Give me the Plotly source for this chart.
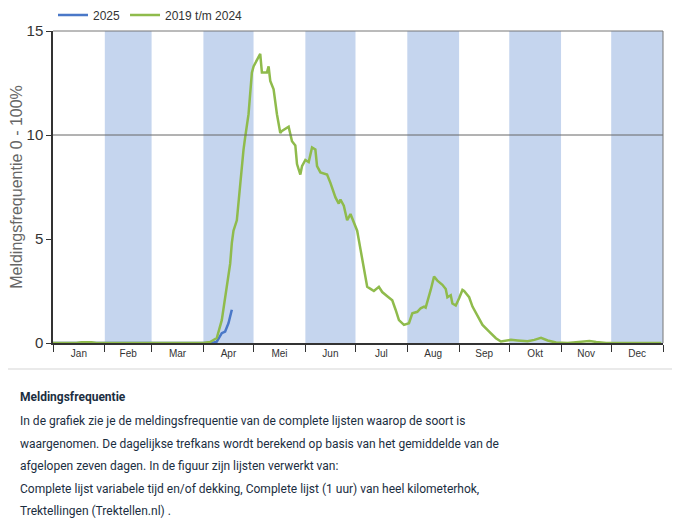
import plotly.graph_objects as go

# day of year (0 = 1 jan) and frequency (%)
hist_days = [0, 14, 17, 20, 23, 26, 60, 90, 94, 98, 101, 103, 106, 107, 108, 110, 112, 114, 115, 117,
             119, 120, 124, 125, 128, 129, 130, 132, 134, 136, 137, 139, 141, 143, 145, 146,
             148, 149, 151, 153, 155, 157, 158, 160, 164, 166, 168, 169, 171, 172, 174, 176,
             178, 180, 182, 184, 186, 188, 190, 192, 195, 197, 200, 203, 205, 207, 210, 213,
             215, 218, 220, 222, 223, 225, 226, 228, 230, 233, 235, 236, 238, 239, 241, 243,
             245, 246, 249, 251, 254, 257, 261, 265, 268, 271, 274, 278, 281, 284, 288, 292,
             296, 301, 308, 315, 321, 325, 331, 345, 364]
hist_vals = [0.0, 0.0, 0.04, 0.05, 0.04, 0.0, 0.0, 0.0, 0.05, 0.24, 1.1, 2.2, 3.8, 4.8, 5.4, 5.9, 7.7,
             9.3, 9.9, 11.0, 13.0, 13.3, 13.9, 13.0, 13.0, 13.3, 12.6, 12.2, 11.0, 10.1, 10.2,
             10.3, 10.4, 9.7, 9.5, 8.6, 8.1, 8.5, 8.8, 8.7, 9.4, 9.3, 8.5, 8.2, 8.1, 7.7, 7.2,
             7.0, 6.7, 6.9, 6.6, 5.9, 6.2, 5.8, 5.4, 4.5, 3.5, 2.7, 2.6, 2.5, 2.7, 2.45, 2.25,
             2.05, 1.6, 1.1, 0.87, 0.95, 1.43, 1.5, 1.67, 1.75, 1.7, 2.2, 2.55, 3.2, 3.0, 2.8,
             2.6, 2.2, 2.3, 1.9, 1.8, 2.15, 2.55, 2.5, 2.2, 1.75, 1.3, 0.87, 0.55, 0.23, 0.07,
             0.1, 0.15, 0.12, 0.1, 0.08, 0.15, 0.25, 0.12, 0.02, 0.0, 0.05, 0.1, 0.05, 0.0,
             0.0, 0.0]

cur_days = [0, 60, 95, 98, 101, 103, 105, 107]
cur_vals = [0.0, 0.0, 0.0, 0.06, 0.47, 0.55, 0.95, 1.6]

months = ["Jan", "Feb", "Mar", "Apr", "Mei", "Jun", "Jul", "Aug", "Sep", "Okt", "Nov", "Dec"]
month_len = [31, 28, 31, 30, 31, 30, 31, 31, 30, 31, 30, 31]

text_title = "Meldingsfrequentie"
text_lines = [
    "In de grafiek zie je de meldingsfrequentie van de complete lijsten waarop de soort is",
    "waargenomen. De dagelijkse trefkans wordt berekend op basis van het gemiddelde van de",
    "afgelopen zeven dagen. In de figuur zijn lijsten verwerkt van:",
    "Complete lijst variabele tijd en/of dekking, Complete lijst (1 uur) van heel kilometerhok,",
    "Trektellingen (Trektellen.nl) .",
]

bounds = [0]
for n in month_len:
    bounds.append(bounds[-1] + n)
mids = [(a + b) / 2 for a, b in zip(bounds[:-1], bounds[1:])]

fig = go.Figure()

fig.add_trace(go.Scatter(x=cur_days, y=cur_vals, mode="lines", name="2025",
                         line={"color": "#4a78c8", "width": 2.5}))
fig.add_trace(go.Scatter(x=hist_days, y=hist_vals, mode="lines", name="2019 t/m 2024",
                         line={"color": "#8fbb4c", "width": 2.5}))

# alternating month shading
for i in range(1, 12, 2):
    fig.add_vrect(x0=bounds[i], x1=bounds[i + 1], fillcolor="#c5d5ee", opacity=1,
                  line_width=0, layer="below")

fig.add_hline(y=10, line={"color": "#666666", "width": 1})

# plot frame top and right
fig.add_shape(type="line", xref="paper", yref="paper", x0=0, x1=1, y0=1, y1=1,
              line={"color": "#777777", "width": 1})
fig.add_shape(type="line", xref="paper", yref="paper", x0=1, x1=1, y0=0, y1=1,
              line={"color": "#777777", "width": 1})

# page has an 8px body margin; plot area on page: px 53..663 x 31..343
pw, ph = 610.0, 312.0
fig.add_shape(type="line", xref="paper", yref="paper",
              x0=-53 / pw, x1=627 / pw, y0=(343 - 369) / ph, y1=(343 - 369) / ph,
              line={"color": "#e3e3e3", "width": 1.5})

body_font = {"family": "Roboto, sans-serif", "size": 12, "color": "#1b2e3f"}
fig.add_annotation(xref="paper", yref="paper", x=(18 - 53) / pw, y=(343 - 397) / ph,
                   xanchor="left", yanchor="middle", showarrow=False,
                   text=f"<b>{text_title}</b>", font=body_font)
for i, line in enumerate(text_lines):
    fig.add_annotation(xref="paper", yref="paper", x=(18 - 53) / pw,
                       y=(343 - (421 + i * 22.6)) / ph,
                       xanchor="left", yanchor="middle", showarrow=False, text=line,
                       font=body_font)

fig.update_layout(
    width=672, height=518,
    margin={"l": 45, "r": 17, "t": 23, "b": 183, "autoexpand": False},
    paper_bgcolor="white", plot_bgcolor="white",
    font={"family": "Liberation Sans, Arial, sans-serif", "color": "#333333"},
    showlegend=True,
    legend={"orientation": "h", "x": 0.0, "y": (343 - 15) / ph, "xanchor": "left",
            "yanchor": "middle", "font": {"size": 12, "color": "#333333"},
            "bgcolor": "rgba(0,0,0,0)"},
    xaxis={
        "range": [0, 365], "tickmode": "array", "tickvals": mids, "ticktext": months,
        "ticks": "", "showgrid": False, "zeroline": False, "automargin": False,
        "showline": True, "linecolor": "#333333", "linewidth": 1.5,
        "tickfont": {"size": 10, "color": "#333333"},
        "minor": {"tickmode": "array", "tickvals": bounds, "ticks": "outside",
                  "ticklen": 7, "tickcolor": "#333333", "tickwidth": 1, "showgrid": False},
    },
    yaxis={
        "range": [0, 15], "tickvals": [0, 5, 10, 15], "ticks": "outside", "ticklen": 5,
        "tickcolor": "#333333", "showgrid": False, "zeroline": False, "automargin": False,
        "showline": True, "linecolor": "#333333", "linewidth": 1.5,
        "tickfont": {"size": 15, "color": "#333333"},
        "title": {"text": "Meldingsfrequentie 0 - 100%", "font": {"size": 16, "color": "#666666"},
                  "standoff": 6},
    },
)

fig.write_html("out.html")
